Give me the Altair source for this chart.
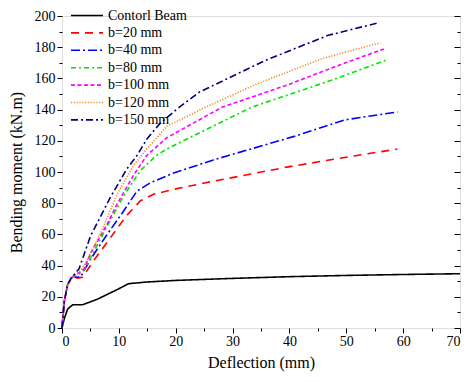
import altair as alt
import pandas as pd

series_names = ["Contorl Beam", "b=20 mm", "b=40 mm", "b=80 mm", "b=100 mm", "b=120 mm", "b=150 mm"]
series_colors = ["#000000", "#ff0000", "#0000ff", "#00e600", "#ff00ff", "#f08a24", "#000080"]
series_dashes = [[1, 0], [8, 6], [9, 3, 2, 3], [5, 3, 2, 3], [4, 2.5], [1.2, 1.6], [7, 3, 2, 3]]

ctrl_x = [0, 0.4, 1.0, 1.9, 3.6, 6.2, 9.7, 11.7, 15, 20, 30, 40, 50, 60, 70]
ctrl_y = [0, 6, 12.2, 14.9, 14.9, 18.4, 24.6, 28.4, 29.5, 30.5, 31.8, 32.9, 33.7, 34.3, 34.8]

b20_x = [0, 0.4, 1.0, 1.9, 2.7, 3.6, 5.6, 8.5, 11.4, 13.8, 16.1, 19.5, 26.5, 39.8, 50, 59]
b20_y = [0, 17, 28, 33, 32, 32.5, 43.3, 57.8, 72.2, 81.6, 85.7, 88.8, 94, 103.3, 109.5, 114.7]

b40_x = [0, 0.4, 1.0, 1.9, 2.7, 3.3, 5.0, 7.9, 10.9, 13.2, 15.5, 19.5, 26.5, 41, 49.7, 59]
b40_y = [0, 17, 28, 33, 32.5, 33, 44, 59.8, 75.3, 87.8, 93, 99.2, 107.6, 123, 133.4, 138.5]

b80_x = [0, 0.4, 1.0, 1.9, 2.7, 3.9, 5.6, 7.9, 11, 13.8, 16.6, 18.4, 25.3, 33.4, 48.5, 56.9]
b80_y = [0, 17, 28, 33, 34, 37, 49, 65, 85.7, 101, 110.6, 114.7, 127.1, 141.6, 160.2, 171.6]

b100_x = [0, 0.4, 1.0, 1.9, 2.7, 3.9, 5.1, 8, 9.7, 12.6, 14.9, 18.4, 28.2, 39.8, 48, 56.6]
b100_y = [0, 17, 28, 33, 34.5, 38, 48.4, 67, 79.5, 98, 110.6, 121.9, 141.6, 156, 167.5, 178.9]

b120_x = [0, 0.4, 1.0, 1.9, 2.7, 3.9, 6.8, 9.7, 12.6, 14.9, 18.4, 25.3, 34, 45.6, 56]
b120_y = [0, 17, 28, 33, 35, 40, 60.9, 85.7, 104.3, 114.7, 129.2, 141.6, 156, 172.5, 182.9]

b150_x = [0, 0.4, 1.0, 1.6, 3, 5.0, 8.5, 11.4, 13.2, 14.9, 17.2, 20.1, 24.2, 35.8, 46.8, 55.5]
b150_y = [0, 17, 28, 32, 38, 58.8, 83.7, 102, 110.6, 121, 131, 140, 151.3, 171.6, 187.6, 195.5]

x_major = [0, 10, 20, 30, 40, 50, 60, 70]
x_minor = [5, 15, 25, 35, 45, 55, 65]
y_major = [0, 20, 40, 60, 80, 100, 120, 140, 160, 180, 200]
y_minor = [10, 30, 50, 70, 90, 110, 130, 150, 170, 190]

all_x = [ctrl_x, b20_x, b40_x, b80_x, b100_x, b120_x, b150_x]
all_y = [ctrl_y, b20_y, b40_y, b80_y, b100_y, b120_y, b150_y]
rows = []
for name, xs_, ys_ in zip(series_names, all_x, all_y):
    for i, (xv, yv) in enumerate(zip(xs_, ys_)):
        rows.append({"series": name, "x": xv, "y": yv, "order": i})
df = pd.DataFrame(rows)

W, H = 398, 312
FONT = "Liberation Serif"

xs = alt.Scale(domain=[0, 70], nice=False, zero=False)
ys = alt.Scale(domain=[0, 200], nice=False, zero=False)

base = alt.Chart(df)

lines = base.mark_line(strokeWidth=1.6).encode(
    x=alt.X("x:Q", scale=xs, axis=alt.Axis(
        values=x_major, title="Deflection (mm)", tickSize=5, labelPadding=1,
        titlePadding=6, grid=False, domain=False, tickColor="black",
        labelColor="black", titleColor="black", labelFontSize=14, titleFontSize=16,
        labelFont=FONT, titleFont=FONT, titleFontWeight="normal")),
    y=alt.Y("y:Q", scale=ys, axis=alt.Axis(
        values=y_major, title="Bending moment (kN.m)", tickSize=5, labelPadding=2,
        titlePadding=10, grid=False, domain=False, tickColor="black",
        labelColor="black", titleColor="black", labelFontSize=14, titleFontSize=16,
        labelFont=FONT, titleFont=FONT, titleFontWeight="normal")),
    color=alt.Color("series:N", scale=alt.Scale(domain=series_names, range=series_colors),
                    legend=alt.Legend(title=None, orient="none", legendX=8, legendY=-8,
                                      symbolType="stroke", symbolSize=1024, symbolStrokeWidth=1.6,
                                      clipHeight=15, rowPadding=2.4, labelFont=FONT,
                                      labelFontSize=14, labelColor="black", labelOffset=4,
                                      padding=0, labelLimit=200)),
    strokeDash=alt.StrokeDash("series:N", scale=alt.Scale(domain=series_names, range=series_dashes),
                              legend=None),
    order="order:Q",
)

def tick_layer(xvals, yvals, orient_y, xsize, ysize, yoff):
    return base.mark_line(opacity=0).encode(
        x=alt.X("x:Q", scale=xs, axis=alt.Axis(
            values=xvals, orient="bottom", labels=False, title=None, tickSize=xsize,
            grid=False, domain=False, tickColor="black")),
        y=alt.Y("y:Q", scale=ys, axis=alt.Axis(
            values=yvals, orient=orient_y, offset=yoff, labels=False, title=None, tickSize=ysize,
            grid=False, domain=False, tickColor="black")),
        detail="series:N",
    )

minor_out = tick_layer(x_minor, y_minor, "left", 3, 3, 0)
major_in = tick_layer([], y_major, "right", 0, 6, -6)
minor_in = tick_layer([], y_minor, "right", 0, 3, -3)

chart = alt.layer(lines, minor_out, major_in, minor_in).resolve_axis(
    x="independent", y="independent"
).properties(
    width=W, height=H,
    autosize=alt.AutoSizeParams(type="none"),
    padding={"left": 54, "top": 8, "right": 6, "bottom": 44},
).configure_view(stroke="black", strokeWidth=1.2).configure(background="white")

chart.save("out.html", embed_options={"renderer": "svg", "actions": False})
